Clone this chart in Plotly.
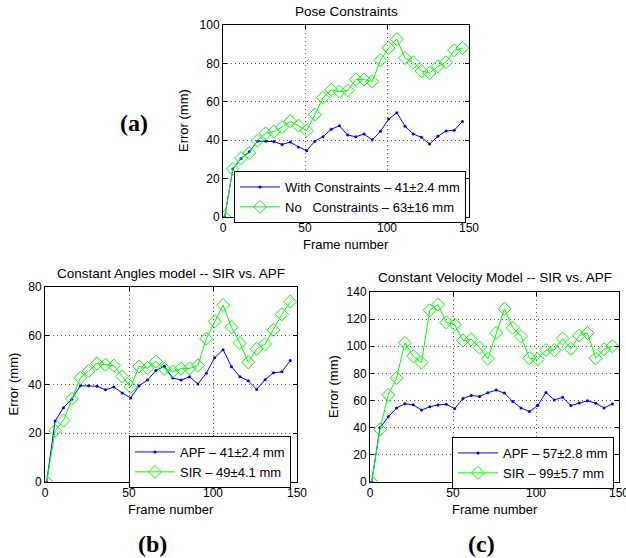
import plotly.graph_objects as go

W, H = 626, 558

frames = [1, 6, 11, 16, 21, 26, 31, 36, 41, 46, 51, 56, 61, 66, 71, 76, 81, 86, 91, 96,
          101, 106, 111, 116, 121, 126, 131, 136, 141, 146]

# Panel (a): Pose Constraints
a_with = [0, 25, 30.5, 34, 39.5, 39.5, 39.3, 37.8, 39, 36.5, 34.5, 39.5, 41.8, 45.7, 47.5,
          42.7, 41.8, 43.2, 40.2, 44.6, 51, 54.3, 47.3, 43.2, 41.5, 38, 42, 44.8, 45.2, 49.8]
a_none = [0, 25, 30.7, 33.3, 39.8, 43.6, 44.5, 46.8, 49.9, 47.6, 45, 53.3, 62.1, 66.2, 65.3,
          65.9, 71.6, 71.6, 70.6, 81.6, 88, 92.6, 82.8, 80.5, 76, 75, 78.5, 80.6, 86.8, 88]

# Panel (b): Constant Angles model
b_apf = a_with
b_sir = [0, 21, 25.2, 34.1, 42.7, 45.6, 48.6, 48.1, 47.7, 43.3, 39, 47.4, 46.8, 49.4, 46.4,
         45.3, 46.5, 46.6, 47.8, 58.8, 65.9, 72.6, 63.5, 57, 49.1, 54.6, 56.6, 62.4, 68.8, 74]

# Panel (c): Constant Velocity Model
c_apf = [0, 40, 48, 54.5, 57.6, 56.9, 53, 55.4, 56.8, 57.3, 54, 61.5, 63.8, 63, 65.8,
         67.7, 65.5, 59.3, 54.6, 51.9, 56.3, 66, 60.4, 62.4, 56.3, 58.3, 59.9, 58, 54.6, 57.5]
c_sir = [0, 38.7, 64.2, 76.6, 102.5, 92.8, 88, 126.5, 130.6, 117.6, 116, 104.2, 105, 99,
         90.8, 109.8, 127.6, 113.6, 107.4, 91.2, 90.4, 97.2, 97.2, 105.7, 98.2, 107.9, 109.8,
         91.2, 97.8, 100]

legend_a = ["With Constraints \u2013 41\u00b12.4 mm",
            "No\u00a0\u00a0\u00a0Constraints \u2013 63\u00b116 mm"]
legend_b = ["APF \u2013 41\u00b12.4 mm", "SIR \u2013 49\u00b14.1 mm"]
legend_c = ["APF \u2013 57\u00b12.8 mm", "SIR \u2013 99\u00b15.7 mm"]

titles = ["Pose Constraints", "Constant Angles model -- SIR vs. APF",
          "Constant Velocity Model -- SIR vs. APF"]
panel_labels = ["(a)", "(b)", "(c)"]
x_ticks = [0, 50, 100, 150]
y_ticks_a = [0, 20, 40, 60, 80, 100]
y_ticks_b = [0, 20, 40, 60, 80]
y_ticks_c = [0, 20, 40, 60, 80, 100, 120, 140]

BLUE = "rgb(0,0,255)"
GREEN = "rgb(0,255,0)"
FONT = "Liberation Sans, Arial, sans-serif"


def px_x(v):
    return v / W


def px_y(v):
    return 1 - v / H


# axes boxes in pixels: (left, right, top, bottom)
boxes = [(223, 469, 25, 217), (45, 297, 287, 482), (370, 619, 292, 482)]
legend_pos = [(234, 171), (129, 436), (452, 437)]
ylabel_x = [183, 13, 333]
title_y = [11, 273, 277]

fig = go.Figure()

series = [(a_with, a_none, legend_a), (b_apf, b_sir, legend_b), (c_apf, c_sir, legend_c)]
legend_names = ["legend", "legend2", "legend3"]

for i, (blue, green, names) in enumerate(series):
    xa = "x" if i == 0 else f"x{i+1}"
    ya = "y" if i == 0 else f"y{i+1}"
    fig.add_trace(go.Scatter(x=frames, y=blue, mode="lines+markers", name=names[0],
                             line=dict(color=BLUE, width=1),
                             marker=dict(symbol="circle", size=3, color=BLUE),
                             xaxis=xa, yaxis=ya, legend=legend_names[i]))
    fig.add_trace(go.Scatter(x=frames, y=green, mode="lines+markers", name=names[1],
                             line=dict(color=GREEN, width=1),
                             marker=dict(symbol="diamond-open", size=10, color=GREEN,
                                         line=dict(width=1, color=GREEN)),
                             xaxis=xa, yaxis=ya, legend=legend_names[i]))

y_tick_sets = [y_ticks_a, y_ticks_b, y_ticks_c]
layout = dict(template="none", width=W, height=H,
              margin=dict(l=0, r=0, t=0, b=0, autoexpand=False),
              paper_bgcolor="white", plot_bgcolor="white",
              font=dict(family=FONT, size=13, color="black"),
              showlegend=True, annotations=[])

for i, (l, r, t, b) in enumerate(boxes):
    xk = "xaxis" if i == 0 else f"xaxis{i+1}"
    yk = "yaxis" if i == 0 else f"yaxis{i+1}"
    xa = "x" if i == 0 else f"x{i+1}"
    ya = "y" if i == 0 else f"y{i+1}"
    yt = y_tick_sets[i]
    common = dict(showline=True, linecolor="black", linewidth=1, mirror="ticks",
                  ticks="inside", ticklen=4, tickcolor="black", automargin=False,
                  showgrid=True, gridcolor="rgb(90,90,90)", griddash="1px,3px", gridwidth=1,
                  zeroline=False, ticklabeloverflow="allow",
                  tickfont=dict(family=FONT, size=12, color="black"))
    layout[xk] = dict(domain=[px_x(l), px_x(r)], range=[0, 150], tickvals=x_ticks,
                      anchor=ya, **common)
    layout[yk] = dict(domain=[px_y(b), px_y(t)], range=[yt[0], yt[-1]], tickvals=yt,
                      anchor=xa, **common)
    lx, ly = legend_pos[i]
    layout[legend_names[i]] = dict(x=px_x(lx), y=px_y(ly), xanchor="left", yanchor="top",
                                   bgcolor="white", bordercolor="black", borderwidth=1,
                                   font=dict(family=FONT, size=13, color="black"),
                                   tracegroupgap=0, itemwidth=40)
    cx = (l + r) / 2
    ann = dict(xref="paper", yref="paper", showarrow=False, xanchor="center",
               yanchor="middle")
    layout["annotations"].append(dict(text=titles[i], x=px_x(cx), y=px_y(title_y[i]),
                                      font=dict(family=FONT, size=13.5, color="black"), **ann))
    layout["annotations"].append(dict(text="Frame number", x=px_x(cx), y=px_y(b + 27),
                                      font=dict(family=FONT, size=13, color="black"), **ann))
    layout["annotations"].append(dict(text="Error (mm)", x=px_x(ylabel_x[i]),
                                      y=px_y((t + b) / 2), textangle=-90,
                                      font=dict(family=FONT, size=13, color="black"), **ann))

label_pos = [(134, 123), (152, 544), (481, 544)]
for txt, (x, y) in zip(panel_labels, label_pos):
    layout["annotations"].append(dict(text="<b>" + txt + "</b>", x=px_x(x), y=px_y(y),
                                      xref="paper", yref="paper", showarrow=False,
                                      xanchor="center", yanchor="middle",
                                      font=dict(family="Liberation Serif, Times New Roman, serif",
                                                size=24, color="black")))

fig.update_layout(**layout)
fig.write_html("out.html", post_script="document.body.style.margin='0';",
               config={"displayModeBar": False})
